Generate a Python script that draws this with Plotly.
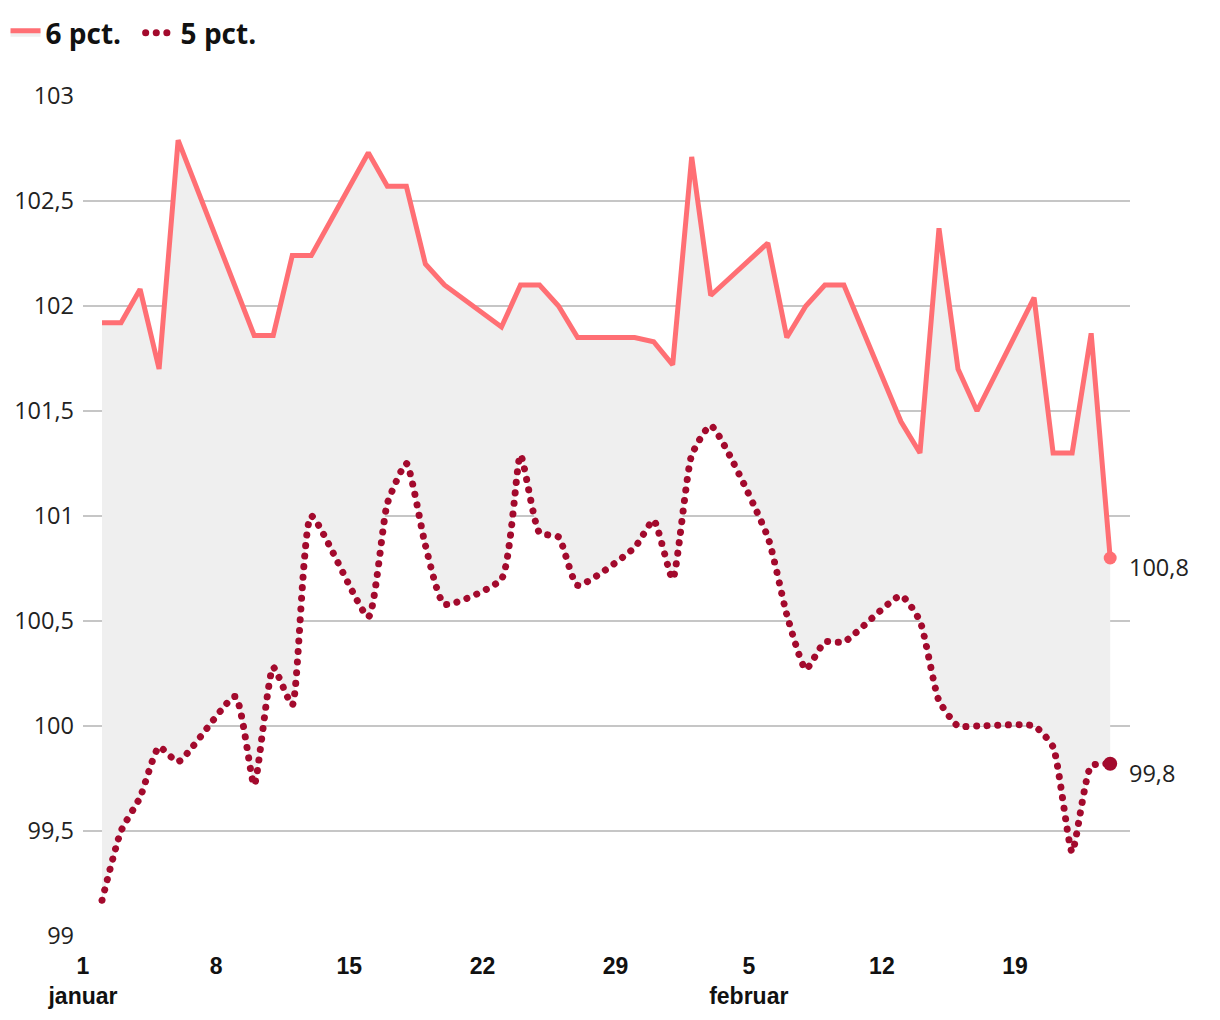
import plotly.graph_objects as go

dates = [
    "2023-01-02", "2023-01-03", "2023-01-04", "2023-01-05", "2023-01-06",
    "2023-01-09", "2023-01-10", "2023-01-11", "2023-01-12", "2023-01-13",
    "2023-01-16", "2023-01-17", "2023-01-18", "2023-01-19", "2023-01-20",
    "2023-01-23", "2023-01-24", "2023-01-25", "2023-01-26", "2023-01-27",
    "2023-01-30", "2023-01-31", "2023-02-01", "2023-02-02", "2023-02-03",
    "2023-02-06", "2023-02-07", "2023-02-08", "2023-02-09", "2023-02-10",
    "2023-02-13", "2023-02-14", "2023-02-15", "2023-02-16", "2023-02-17",
    "2023-02-20", "2023-02-21", "2023-02-22", "2023-02-23", "2023-02-24",
]

pct6 = [
    101.92, 101.92, 102.08, 101.70, 102.79,
    102.09, 101.86, 101.86, 102.24, 102.24,
    102.73, 102.57, 102.57, 102.20, 102.10,
    101.90, 102.10, 102.10, 102.00, 101.85,
    101.85, 101.83, 101.72, 102.71, 102.05,
    102.30, 101.85, 102.00, 102.10, 102.10,
    101.45, 101.30, 102.37, 101.70, 101.50,
    102.04, 101.30, 101.30, 101.87, 100.80,
]

pct5 = [
    99.17, 99.50, 99.66, 99.90, 99.83,
    100.14, 99.72, 100.28, 100.10, 101.00,
    100.52, 101.06, 101.25, 100.86, 100.58,
    100.70, 101.29, 100.92, 100.90, 100.67,
    100.85, 100.98, 100.70, 101.29, 101.43,
    100.90, 100.53, 100.27, 100.40, 100.40,
    100.62, 100.50, 100.12, 100.00, 100.00,
    100.00, 99.90, 99.40, 99.81, 99.82,
]

tick_dates = ["2023-01-01", "2023-01-08", "2023-01-15", "2023-01-22", "2023-01-29",
              "2023-02-05", "2023-02-12", "2023-02-19"]
tick_text = ["1<br>januar", "8", "15", "22", "29", "5<br>februar", "12", "19"]

C6 = "#ff6f74"
C5 = "#a30a2d"

fig = go.Figure()

fig.add_trace(go.Scatter(
    x=dates, y=pct5, name="5 pct.", mode="lines",
    line=dict(color=C5, width=7, dash="dot", shape="spline", smoothing=0.5),
    legendrank=2,
))
fig.add_trace(go.Scatter(
    x=dates, y=pct6, name="6 pct.&nbsp;&nbsp;", mode="lines",
    line=dict(color=C6, width=5),
    fill="tonexty", fillcolor="#efefef",
    legendrank=1,
))

# end markers
fig.add_trace(go.Scatter(
    x=[dates[-1]], y=[pct6[-1]], mode="markers",
    marker=dict(color=C6, size=13), showlegend=False, hoverinfo="skip",
))
fig.add_trace(go.Scatter(
    x=[dates[-1]], y=[pct5[-1]], mode="markers",
    marker=dict(color=C5, size=14), showlegend=False, hoverinfo="skip",
))

def fmt(v):
    return f"{v:.1f}".replace(".", ",")

for v in (pct6[-1], pct5[-1]):
    fig.add_annotation(
        x=dates[-1], y=v, text=fmt(v), showarrow=False,
        xanchor="left", yanchor="middle", xshift=17, yshift=-9,
        font=dict(family="Open Sans", size=23.5, color="#222222"),
    )

fig.update_layout(
    width=1220, height=1020,
    margin=dict(l=83, r=90, t=96, b=84, autoexpand=False),
    paper_bgcolor="white", plot_bgcolor="white",
    separators=", ",
    showlegend=True,
    legend=dict(
        orientation="h", x=-0.074, xanchor="left", y=1.075, yanchor="middle",
        font=dict(family="Open Sans", size=28, color="#111111", weight="bold"),
        itemwidth=30, bgcolor="rgba(0,0,0,0)", tracegroupgap=0,
        traceorder="normal",
    ),
    xaxis=dict(
        type="date",
        range=["2023-01-01", "2023-02-25 01:00"],
        tickvals=tick_dates, ticktext=tick_text,
        showgrid=False, zeroline=False, showline=False, ticks="",
        ticklabelstandoff=14, automargin=False,
        tickfont=dict(family="Liberation Sans", size=23, color="#111111", weight="bold"),
    ),
    yaxis=dict(
        range=[99, 103], dtick=0.5, tick0=99,
        showgrid=True, gridcolor="#c6c6c6", gridwidth=2,
        zeroline=False, showline=False, ticks="",
        ticklabelstandoff=8, automargin=False,
        tickfont=dict(family="Open Sans", size=23.5, color="#222222"),
    ),
)

post = """
document.body.style.margin = '0';
var gd = document.getElementById('{plot_id}');
gd.querySelectorAll('path.js-line').forEach(function(p){
  var s = p.style.stroke || '';
  if (s.replace(/\\s/g,'') === 'rgb(163,10,45)') {
    p.style.strokeDasharray = '0.1px,10.5px';
    p.style.strokeLinecap = 'round';
  }
});
"""

fig.write_html("out.html", post_script=post, config={"displayModeBar": False})
